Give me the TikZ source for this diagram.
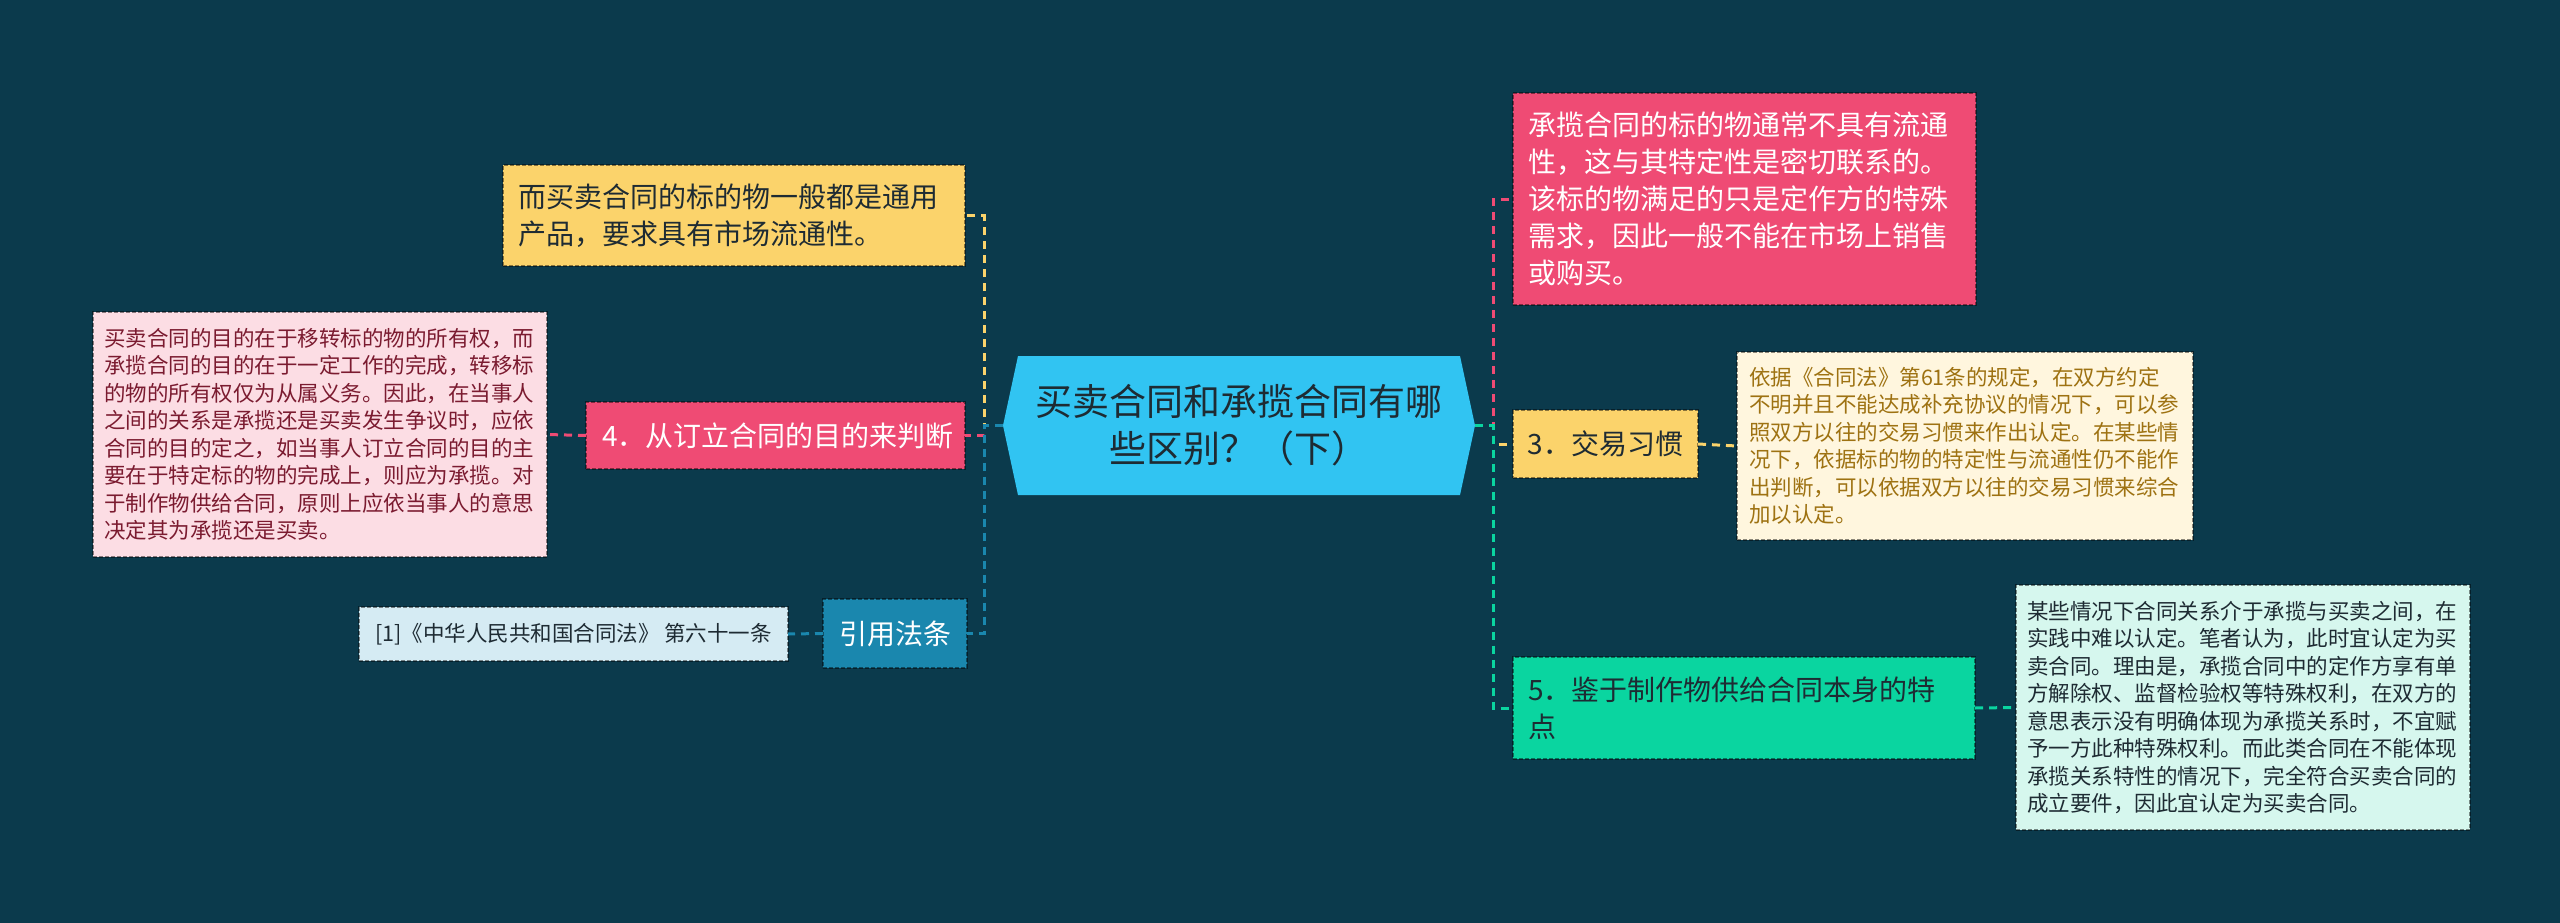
\documentclass[tikz,border=0pt]{standalone}
\usepackage{fontspec}
\setmainfont{Noto Sans CJK SC}
\usetikzlibrary{calc}
\definecolor{bg}{HTML}{0B3A4C}
\definecolor{cfill}{HTML}{31C4F2}
\definecolor{yel}{HTML}{FBD36B}
\definecolor{pnk}{HTML}{EF4B74}
\definecolor{pnkl}{HTML}{FCDDE4}
\definecolor{pnkt}{HTML}{7B1B30}
\definecolor{yell}{HTML}{FFF6DE}
\definecolor{yelt}{HTML}{9E7212}
\definecolor{blu}{HTML}{1A87AE}
\definecolor{blul}{HTML}{D5EBF3}
\definecolor{grn}{HTML}{0AD5A0}
\definecolor{grnl}{HTML}{D6F7EE}
\definecolor{dtext}{HTML}{1E2B33}
\tikzset{
  boxbase/.style={draw=black, draw opacity=0.45, dash pattern=on 4pt off 2pt, line width=1.2pt,
    inner ysep=0pt, outer sep=0pt},
  bigfont/.style={font=\fontsize{28}{37}\selectfont},
  smallfont/.style={font=\fontsize{21.5}{27.5}\selectfont},
  conn/.style={line width=3pt, dash pattern=on 8pt off 6pt},
}
\begin{document}
\begin{tikzpicture}[x=1pt,y=-1pt]
\fill[bg] (0,0) rectangle (2560,923);
\useasboundingbox (0,0) rectangle (2560,923);

% centre
\coordinate (cL) at (1003,425.5);
\coordinate (cR) at (1475,425.5);
\fill[cfill] (cL) -- (1018,356) -- (1460,356) -- (cR) -- (1460,495) -- (1018,495) -- cycle;
\node[align=center, text=dtext, font=\fontsize{37}{47}\selectfont] (center) at (1239,425.5)
  {买卖合同和承揽合同有哪\\些区别？（下）};

% left side
\node[boxbase, fill=yel, text=dtext, bigfont, inner xsep=15pt, text width=432pt, minimum height=101pt, align=left]
  (ybox) at (734,215.5) {而买卖合同的标的物一般都是通用\\产品，要求具有市场流通性。};
\node[boxbase, fill=pnk, text=white, bigfont, inner xsep=16pt, text width=347pt, minimum height=67pt, align=left]
  (pbox) at (775.5,435.5) {4．从订立合同的目的来判断};
\node[boxbase, fill=pnkl, text=pnkt, smallfont, inner xsep=11pt, text width=432pt, minimum height=245pt, align=left]
  (pdet) at (320,434.5) {买卖合同的目的在于移转标的物的所有权，而\\承揽合同的目的在于一定工作的完成，转移标\\的物的所有权仅为从属义务。因此，在当事人\\之间的关系是承揽还是买卖发生争议时，应依\\合同的目的定之，如当事人订立合同的目的主\\要在于特定标的物的完成上，则应为承揽。对\\于制作物供给合同，原则上应依当事人的意思\\决定其为承揽还是买卖。};
\node[boxbase, fill=blu, text=white, bigfont, inner xsep=0pt, minimum width=144pt, minimum height=69pt, align=center]
  (cite) at (895,633.5) {引用法条};
\node[boxbase, fill=blul, text=dtext, smallfont, inner xsep=0pt, minimum width=429pt, minimum height=54pt, align=center]
  (law) at (573.5,634) {[1]《中华人民共和国合同法》 第六十一条};

% right side
\node[boxbase, fill=pnk, text=white, bigfont, inner xsep=15pt, text width=433pt, minimum height=212pt, align=left]
  (rpink) at (1744.5,199) {承揽合同的标的物通常不具有流通\\性，这与其特定性是密切联系的。\\该标的物满足的只是定作方的特殊\\需求，因此一般不能在市场上销售\\或购买。};
\node[boxbase, fill=yel, text=dtext, bigfont, inner xsep=0pt, minimum width=185pt, minimum height=68pt, align=center]
  (r3) at (1605.5,444) {3．交易习惯};
\node[boxbase, fill=yell, text=yelt, smallfont, inner xsep=12pt, text width=432pt, minimum height=188pt, align=left]
  (rydet) at (1965,446) {依据《合同法》第61条的规定，在双方约定\\不明并且不能达成补充协议的情况下，可以参\\照双方以往的交易习惯来作出认定。在某些情\\况下，依据标的物的特定性与流通性仍不能作\\出判断，可以依据双方以往的交易习惯来综合\\加以认定。};
\node[boxbase, fill=grn, text=dtext, bigfont, inner xsep=15pt, text width=432pt, minimum height=102pt, align=left]
  (r5) at (1744,708) {5．鉴于制作物供给合同本身的特\\点};
\node[boxbase, fill=grnl, text=dtext, smallfont, inner xsep=11pt, text width=432pt, minimum height=245pt, align=left]
  (rcdet) at (2243,707.5) {某些情况下合同关系介于承揽与买卖之间，在\\实践中难以认定。笔者认为，此时宜认定为买\\卖合同。理由是，承揽合同中的定作方享有单\\方解除权、监督检验权等特殊权利，在双方的\\意思表示没有明确体现为承揽关系时，不宜赋\\予一方此种特殊权利。而此类合同在不能体现\\承揽关系特性的情况下，完全符合买卖合同的\\成立要件，因此宜认定为买卖合同。};

% connectors left
\draw[conn, yel] (cL) -- ++(-19,0) |- (ybox.east);
\draw[conn, pnk] (cL) -- ++(-19,0) |- (pbox.east);
\draw[conn, blu] (cL) -- ++(-19,0) |- (cite.east);
\draw[conn, pnk] (pbox.west) -- (pdet.east);
\draw[conn, blu] (cite.west) -- (law.east);

% connectors right
\draw[conn, pnk] (cR) -- ++(18,0) |- (rpink.west);
\draw[conn, yel] (cR) -- ++(18,0) |- (r3.west);
\draw[conn, grn] (cR) -- ++(18,0) |- (r5.west);
\draw[conn, yel] (r3.east) -- (rydet.west);
\draw[conn, grn] (r5.east) -- (rcdet.west);
\end{tikzpicture}
\end{document}
